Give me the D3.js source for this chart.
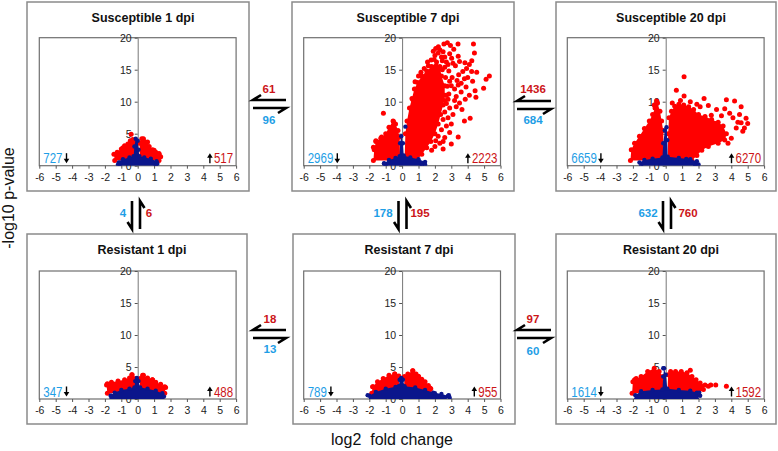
<!DOCTYPE html>
<html><head><meta charset="utf-8">
<script src="https://cdn.jsdelivr.net/npm/d3@7"></script>
<style>html,body{margin:0;padding:0;background:#fff;} svg{display:block;font-family:Arial,"Liberation Sans",sans-serif;}</style>
</head><body><svg id="c" width="778" height="451"></svg>
<script>
// ---------- data ----------
const titles = ["Susceptible 1 dpi","Susceptible 7 dpi","Susceptible 20 dpi","Resistant 1 dpi","Resistant 7 dpi","Resistant 20 dpi"];
const downCounts = [727, 2969, 6659, 347, 789, 1614];
const upCounts = [517, 2223, 6270, 488, 955, 1592];
const hRed = [61, 1436, 18, 97];
const hBlue = [96, 684, 13, 60];
const vBlue = [4, 178, 632];
const vRed = [6, 195, 760];
const xTicks = [-6,-5,-4,-3,-2,-1,0,1,2,3,4,5,6];
const yTicks = [0,5,10,15,20];

// dense clouds (envelopes, log2FC / -log10 p) and scattered genes
const s1RedL = [[-1.4,0.8],[-1.45,1.8],[-1.25,2.1],[-1.0,2.6],[-0.8,3.1],[-0.6,3.4],[-0.45,3.9],[-0.3,4.1],[-0.15,3.6],[-0.15,0.8]];
const s1RedR = [[0.12,0.8],[0.12,3.5],[0.25,4.2],[0.4,3.8],[0.55,3.6],[0.7,3.0],[0.9,2.5],[1.1,2.1],[1.3,1.9],[1.4,1.4],[1.3,0.8]];
const s1Blue = [[-1.1,0],[-1.15,0.5],[-0.9,1.0],[-0.5,1.3],[-0.25,1.5],[-0.2,3.0],[-0.12,4.2],[0.0,3.9],[0.05,2.5],[0.1,1.5],[0.4,1.3],[0.8,1.1],[1.15,0.7],[1.2,0.3],[1.1,0]];
const s1RedPts = [[-0.4,4.9],[0.35,4.2],[0.6,3.7],[-1.25,2.0],[1.3,1.8],[1.0,2.4],[-0.9,2.8]];
const s1BluePts = [[-1.2,0.2],[-1.05,0.5]];

const s7RedL = [[-1.75,0.8],[-1.7,2.5],[-1.6,3.8],[-1.3,4.3],[-1.0,5.0],[-0.8,6.0],[-0.55,7.0],[-0.4,6.5],[-0.25,5.5],[-0.15,4.5],[-0.12,0.8]];
const s7RedR = [[0.15,0.8],[0.2,5.0],[0.3,7.0],[0.45,9.0],[0.6,10.5],[0.75,12.0],[0.95,13.0],[1.2,14.0],[1.5,14.8],[1.8,15.5],[2.1,16.2],[2.3,15.5],[2.4,14.0],[2.6,12.5],[2.6,11.0],[2.5,9.5],[2.35,8.0],[2.2,6.5],[2.0,5.0],[1.75,3.8],[1.5,2.8],[1.2,1.8],[0.9,0.8]];
const s7Blue = [[-1.0,0],[-1.1,0.4],[-0.8,0.9],[-0.4,1.2],[-0.15,1.5],[-0.12,3.5],[-0.05,4.6],[0.05,3.5],[0.1,1.6],[0.5,1.3],[1.0,1.0],[1.4,0.6],[1.4,0.2],[1.2,0]];
const s7RedPts = [[2.76,19.2],[3.41,19.0],[4.35,19.0],[4.41,17.6],[2.21,18.6],[2.3,18.1],[2.5,17.8],[2.0,17.2],[1.77,16.5],[3.02,16.8],[3.42,17.1],[3.83,16.1],[3.5,16.3],[3.25,15.6],[3.93,15.2],[4.24,14.7],[4.55,14.6],[3.7,14.7],[3.45,14.2],[4.0,13.8],[4.3,13.2],[3.6,12.9],[3.42,12.6],[3.2,12.0],[5.32,14.0],[5.12,13.5],[4.97,12.1],[4.45,11.7],[4.5,10.7],[4.1,11.0],[3.85,10.4],[3.5,9.8],[3.65,8.8],[3.3,9.2],[3.1,8.0],[4.15,7.4],[3.8,7.0],[3.0,6.5],[2.8,7.5],[3.42,4.5],[2.9,5.2],[2.6,4.4],[2.3,3.5],[2.0,3.0],[2.5,2.6],[1.8,2.4],[3.0,3.4],[2.7,11.0],[3.05,13.8],[2.85,14.8],[2.7,16.2],[2.9,17.5],[3.15,18.2],[1.55,16.2],[1.0,14.0],[0.79,13.1],[0.66,10.3],[-1.14,8.2],[-0.53,6.9],[-1.75,2.9],[-1.6,3.9],[-1.25,4.5],
  [2.4,17.0],[2.2,17.6],[2.6,17.0],[1.95,16.6],[2.45,16.4],[2.8,15.8],[2.6,15.4],[2.9,13.2],[2.75,12.4],[3.0,12.5],[2.85,11.2],[2.7,9.7],[2.9,9.0],[2.6,8.4],[2.5,7.2],[2.7,6.2],[2.4,5.6],[2.2,4.6],[2.5,3.8],[2.05,3.9],[1.9,17.9],[2.05,18.3],[1.6,15.6],[1.35,15.2],[1.15,14.6],[3.3,10.8],[3.6,11.5],[3.9,12.3],[3.2,10.2],[3.35,13.3],[3.8,13.6],[4.1,15.8],[4.25,16.4],[3.1,16.0],[2.95,18.8],[2.55,19.0],[2.45,15.0],[2.65,13.8],[2.8,10.4],[2.6,10.2]];
const s7BluePts = [[0.2,6.1],[-1.1,0.3]];

const s20RedL = [[-2.15,0.8],[-2.1,2.5],[-1.9,3.5],[-1.6,4.6],[-1.3,5.8],[-1.0,7.0],[-0.8,8.0],[-0.65,9.0],[-0.5,9.8],[-0.35,8.5],[-0.25,7.0],[-0.15,5.5],[-0.12,0.8]];
const s20RedR = [[0.12,0.8],[0.15,5.0],[0.2,7.5],[0.35,8.5],[0.55,9.3],[0.8,9.6],[1.1,9.5],[1.4,9.2],[1.7,8.8],[2.0,8.0],[2.4,7.7],[2.8,7.2],[3.2,6.8],[3.5,6.2],[3.7,5.0],[3.6,4.0],[3.2,3.5],[2.6,3.0],[2.2,2.4],[1.9,1.6],[1.6,0.8]];
const s20Blue = [[-1.5,0],[-1.6,0.5],[-1.3,0.9],[-0.8,1.1],[-0.2,1.3],[-0.15,3.5],[-0.05,5.5],[0.05,6.0],[0.1,4.0],[0.12,1.4],[0.8,1.2],[1.5,1.0],[1.9,0.7],[2.0,0.2],[1.8,0]];
const s20RedPts = [[1.12,13.9],[0.65,11.8],[1.12,10.9],[2.34,10.5],[3.7,10.3],[4.2,10.1],[4.6,9.2],[4.9,7.4],[5.0,6.6],[4.8,5.9],[4.3,5.9],[4.6,6.7],[3.8,3.5],[3.5,4.5],[2.78,7.9],[2.98,6.6],[3.9,8.2],[4.1,7.5],[3.4,7.8],[3.6,8.9],[4.4,6.8],[4.5,8.0],[3.1,8.8],[2.6,9.4],[1.9,9.6],[1.5,10.0],[0.9,10.2],[0.4,9.8],[-0.55,10.1],[-0.7,9.5],[4.0,4.3],[4.7,5.4],[3.3,5.5],[2.1,9.2]];
const s20BluePts = [[1.3,0.9],[1.25,1.05]];

const r1RedL = [[-1.85,0.9],[-1.9,2.2],[-1.6,2.6],[-1.2,2.8],[-0.8,3.0],[-0.5,3.3],[-0.35,3.8],[-0.15,3.2],[-0.15,0.9]];
const r1RedR = [[0.1,0.9],[0.15,3.2],[0.35,3.7],[0.6,3.3],[0.9,3.0],[1.1,2.6],[1.4,2.3],[1.7,1.8],[1.65,0.9]];
const r1Blue = [[-1.6,0],[-1.65,0.5],[-1.4,1.0],[-1.0,1.4],[-0.5,1.6],[-0.2,1.8],[-0.15,2.8],[-0.05,3.3],[0.05,2.8],[0.15,1.8],[0.6,1.6],[1.1,1.3],[1.5,0.9],[1.6,0.4],[1.5,0]];
const r1RedPts = [[-0.35,3.8],[0.3,3.7],[-1.85,2.4],[1.65,1.9],[0.9,3.0]];
const r1BluePts = [[-1.62,0.5]];

const r7RedL = [[-1.85,0.9],[-1.8,1.9],[-1.5,2.7],[-1.15,3.2],[-0.8,3.7],[-0.45,3.9],[-0.2,3.6],[-0.15,0.9]];
const r7RedR = [[0.1,0.9],[0.15,3.5],[0.35,3.9],[0.65,4.4],[0.85,3.9],[1.0,3.5],[1.2,3.1],[1.4,2.7],[1.6,2.1],[1.75,1.6],[1.7,0.9]];
const r7Blue = [[-1.9,0],[-2.0,0.5],[-1.6,1.1],[-1.0,1.6],[-0.4,1.9],[-0.2,2.0],[-0.15,3.0],[-0.05,3.3],[0.05,3.0],[0.15,2.0],[0.8,1.8],[1.4,1.4],[1.9,1.0],[2.4,0.8],[2.8,0.5],[2.9,0.2],[2.6,0]];
const r7RedPts = [[0.65,4.4],[-0.45,3.9],[-1.77,1.9],[1.7,1.7],[1.0,3.5]];
const r7BluePts = [[-2.1,0.6],[2.85,0.6],[2.0,0.9]];

const r20RedL = [[-2.05,0.9],[-2.0,2.7],[-1.9,3.0],[-1.5,3.5],[-1.1,4.3],[-0.7,4.8],[-0.4,4.3],[-0.15,3.5],[-0.15,0.9]];
const r20RedR = [[0.1,0.9],[0.15,3.8],[0.3,4.3],[0.6,4.3],[0.95,4.3],[1.3,4.1],[1.6,3.5],[1.85,3.0],[2.1,2.5],[2.4,2.2],[2.3,1.5],[2.0,0.9]];
const r20Blue = [[-1.8,0],[-1.85,0.6],[-1.5,1.2],[-0.8,1.4],[-0.2,1.5],[-0.15,3.5],[-0.1,4.8],[0.0,3.8],[0.1,1.6],[0.8,1.4],[1.5,1.3],[1.9,1.0],[2.1,0.5],[1.9,0]];
const r20RedPts = [[1.5,4.5],[2.75,2.2],[3.05,2.2],[3.7,2.0],[2.13,1.6],[2.6,2.0],[-1.8,3.2]];
const r20BluePts = [[2.04,1.0],[-0.15,4.8]];

// ---------- layout ----------
const svg = d3.select("#c");
const RED = "#ff0000", NAVY = "#0b168c", TXT_RED = "#cc1518", TXT_BLUE = "#1e9ee6";
const PW = 196.8, PH = 128;
const boxes = [
  {bx:27, by:2, bw:222, bh:189, px:39.3, py:37.7},
  {bx:292, by:2, bw:222, bh:189, px:303.7, py:37.7},
  {bx:556, by:2, bw:220, bh:189, px:567.3, py:37.7},
  {bx:27, by:234, bw:220, bh:190, px:39.3, py:271},
  {bx:293, by:234, bw:222, bh:190, px:303.7, py:271},
  {bx:556, by:234, bw:220, bh:190, px:567.3, py:271}
];
const clouds = [
  {redA:[s1RedL,s1RedR], blueA:[s1Blue], redP:s1RedPts, blueP:s1BluePts},
  {redA:[s7RedL,s7RedR], blueA:[s7Blue], redP:s7RedPts, blueP:s7BluePts},
  {redA:[s20RedL,s20RedR], blueA:[s20Blue], redP:s20RedPts, blueP:s20BluePts},
  {redA:[r1RedL,r1RedR], blueA:[r1Blue], redP:r1RedPts, blueP:r1BluePts},
  {redA:[r7RedL,r7RedR], blueA:[r7Blue], redP:r7RedPts, blueP:r7BluePts},
  {redA:[r20RedL,r20RedR], blueA:[r20Blue], redP:r20RedPts, blueP:r20BluePts}
];

function vArrowDown(g, cx, base) {
  g.append("line").attr("x1",cx).attr("x2",cx).attr("y1",base-10).attr("y2",base-3).attr("stroke","#000").attr("stroke-width",1.4);
  g.append("path").attr("d",`M${cx-2.8},${base-4.5}L${cx+2.8},${base-4.5}L${cx},${base}Z`).attr("fill","#000");
}
function vArrowUp(g, cx, base) {
  g.append("line").attr("x1",cx).attr("x2",cx).attr("y1",base).attr("y2",base-7).attr("stroke","#000").attr("stroke-width",1.4);
  g.append("path").attr("d",`M${cx-2.8},${base-5.5}L${cx+2.8},${base-5.5}L${cx},${base-10}Z`).attr("fill","#000");
}

boxes.forEach((b, i) => {
  const g = svg.append("g");
  g.append("rect").attr("x",b.bx).attr("y",b.by).attr("width",b.bw).attr("height",b.bh)
    .attr("fill","#fff").attr("stroke","#8a8a8a").attr("stroke-width",1.5);
  g.append("text").attr("x",b.bx+b.bw/2+5).attr("y",b.by+19.5).attr("text-anchor","middle")
    .attr("font-size","12.5px").attr("font-weight","bold").attr("fill","#111").text(titles[i]);

  const x = d3.scaleLinear().domain([-6,6]).range([b.px, b.px+PW]);
  const y = d3.scaleLinear().domain([0,20]).range([b.py+PH, b.py]);

  g.append("rect").attr("x",b.px).attr("y",b.py).attr("width",PW).attr("height",PH)
    .attr("fill","none").attr("stroke","#6f6f6f").attr("stroke-width",1.2);

  const xa = g.append("g").attr("transform",`translate(0,${b.py+PH})`)
    .call(d3.axisBottom(x).tickValues(xTicks).tickSize(3).tickSizeOuter(0).tickFormat(d=>String(d)));
  xa.select(".domain").remove();
  xa.selectAll("line").attr("stroke","#555");
  xa.selectAll("text").attr("font-size","10.5px").attr("font-family","Arial, sans-serif").attr("fill","#222").attr("dy","0.9em");

  const ya = g.append("g").attr("transform",`translate(${x(0)},0)`)
    .call(d3.axisLeft(y).tickValues(yTicks).tickSize(3).tickSizeOuter(0).tickFormat(d=>String(d)));
  ya.select(".domain").attr("stroke","#777");
  ya.selectAll("line").attr("stroke","#555");
  ya.selectAll("text").attr("font-size","10.5px").attr("font-family","Arial, sans-serif").attr("fill","#222");

  const clipId = "clip"+i;
  svg.append("clipPath").attr("id",clipId).append("rect").attr("x",b.px).attr("y",b.py).attr("width",PW).attr("height",PH);
  const pg = g.append("g").attr("clip-path",`url(#${clipId})`);
  const area = d3.line().x(d=>x(d[0])).y(d=>y(d[1])).curve(d3.curveLinearClosed);
  const c = clouds[i];
  const R = 2.5;
  c.redA.forEach(poly => {
    pg.append("path").attr("d",area(poly)).attr("fill",RED);
    pg.selectAll(null).data(poly).enter().append("circle").attr("cx",d=>x(d[0])).attr("cy",d=>y(d[1])).attr("r",R).attr("fill",RED);
  });
  pg.selectAll(null).data(c.redP).enter().append("circle").attr("cx",d=>x(d[0])).attr("cy",d=>y(d[1])).attr("r",R).attr("fill",RED);
  c.blueA.forEach(poly => {
    pg.append("path").attr("d",area(poly)).attr("fill",NAVY);
    pg.selectAll(null).data(poly).enter().append("circle").attr("cx",d=>x(d[0])).attr("cy",d=>y(d[1])).attr("r",R-0.3).attr("fill",NAVY);
  });
  pg.selectAll(null).data(c.blueP).enter().append("circle").attr("cx",d=>x(d[0])).attr("cy",d=>y(d[1])).attr("r",R-0.3).attr("fill",NAVY);

  // counts
  const base = b.py+PH-2.5;
  const dStr = String(downCounts[i]);
  const dLen = dStr.length*6.4;
  g.append("text").attr("x",b.px+4).attr("y",base).attr("font-size","14px").attr("fill",TXT_BLUE)
    .attr("textLength",dLen).attr("lengthAdjust","spacingAndGlyphs").text(dStr);
  vArrowDown(g, b.px+4+dLen+4, base);
  const uStr = String(upCounts[i]);
  const uLen = uStr.length*6.4;
  const uEnd = b.px+PW-3;
  g.append("text").attr("x",uEnd-uLen).attr("y",base).attr("font-size","14px").attr("fill",TXT_RED)
    .attr("textLength",uLen).attr("lengthAdjust","spacingAndGlyphs").text(uStr);
  vArrowUp(g, uEnd-uLen-4, base);
});

// ---------- equilibrium arrows ----------
function hArrows(x1, x2, yU, yL) {
  svg.append("path").attr("d",`M${x2},${yU}L${x1},${yU}L${x1+8},${yU-5}`).attr("fill","none").attr("stroke","#000").attr("stroke-width",2.6);
  svg.append("path").attr("d",`M${x1},${yL}L${x2},${yL}L${x2-8},${yL+5}`).attr("fill","none").attr("stroke","#000").attr("stroke-width",2.6);
}
function vArrows(xL, xR, y1, y2) {
  svg.append("path").attr("d",`M${xL},${y1}L${xL},${y2}L${xL-4.5},${y2-7}`).attr("fill","none").attr("stroke","#000").attr("stroke-width",2.6);
  svg.append("path").attr("d",`M${xR},${y2}L${xR},${y1}L${xR+4.5},${y1+7}`).attr("fill","none").attr("stroke","#000").attr("stroke-width",2.6);
}
const hPos = [
  {x1:253, x2:286, yU:100, yL:108, cx:269, tU:89, tL:120},
  {x1:517, x2:551, yU:101, yL:109, cx:533, tU:89, tL:120},
  {x1:253, x2:286, yU:330, yL:338, cx:270, tU:319, tL:349},
  {x1:517, x2:551, yU:330, yL:338, cx:533, tU:319, tL:351}
];
hPos.forEach((p, i) => {
  hArrows(p.x1, p.x2, p.yU, p.yL);
  svg.append("text").attr("x",p.cx).attr("y",p.tU).attr("dy","0.36em").attr("text-anchor","middle")
    .attr("font-size","11.5px").attr("font-weight","bold").attr("fill",TXT_RED).text(hRed[i]);
  svg.append("text").attr("x",p.cx).attr("y",p.tL).attr("dy","0.36em").attr("text-anchor","middle")
    .attr("font-size","11.5px").attr("font-weight","bold").attr("fill",TXT_BLUE).text(hBlue[i]);
});
const vPos = [
  {xL:132, xR:140, bx:123, rx:149},
  {xL:398.5, xR:406.5, bx:383, rx:420},
  {xL:663, xR:671, bx:648, rx:688}
];
vPos.forEach((p, i) => {
  vArrows(p.xL, p.xR, 201, 229);
  svg.append("text").attr("x",p.bx).attr("y",213).attr("dy","0.36em").attr("text-anchor","middle")
    .attr("font-size","11.5px").attr("font-weight","bold").attr("fill",TXT_BLUE).text(vBlue[i]);
  svg.append("text").attr("x",p.rx).attr("y",213).attr("dy","0.36em").attr("text-anchor","middle")
    .attr("font-size","11.5px").attr("font-weight","bold").attr("fill",TXT_RED).text(vRed[i]);
});

// ---------- global axis titles ----------
svg.append("text").attr("transform","translate(14,198) rotate(-90)").attr("text-anchor","middle")
  .attr("font-size","16px").attr("fill","#111").text("-log10 p-value");
svg.append("text").attr("x",392).attr("y",445).attr("text-anchor","middle")
  .attr("font-size","16px").attr("fill","#111").attr("xml:space","preserve").style("white-space","pre").text("log2  fold change");
</script></body></html>
